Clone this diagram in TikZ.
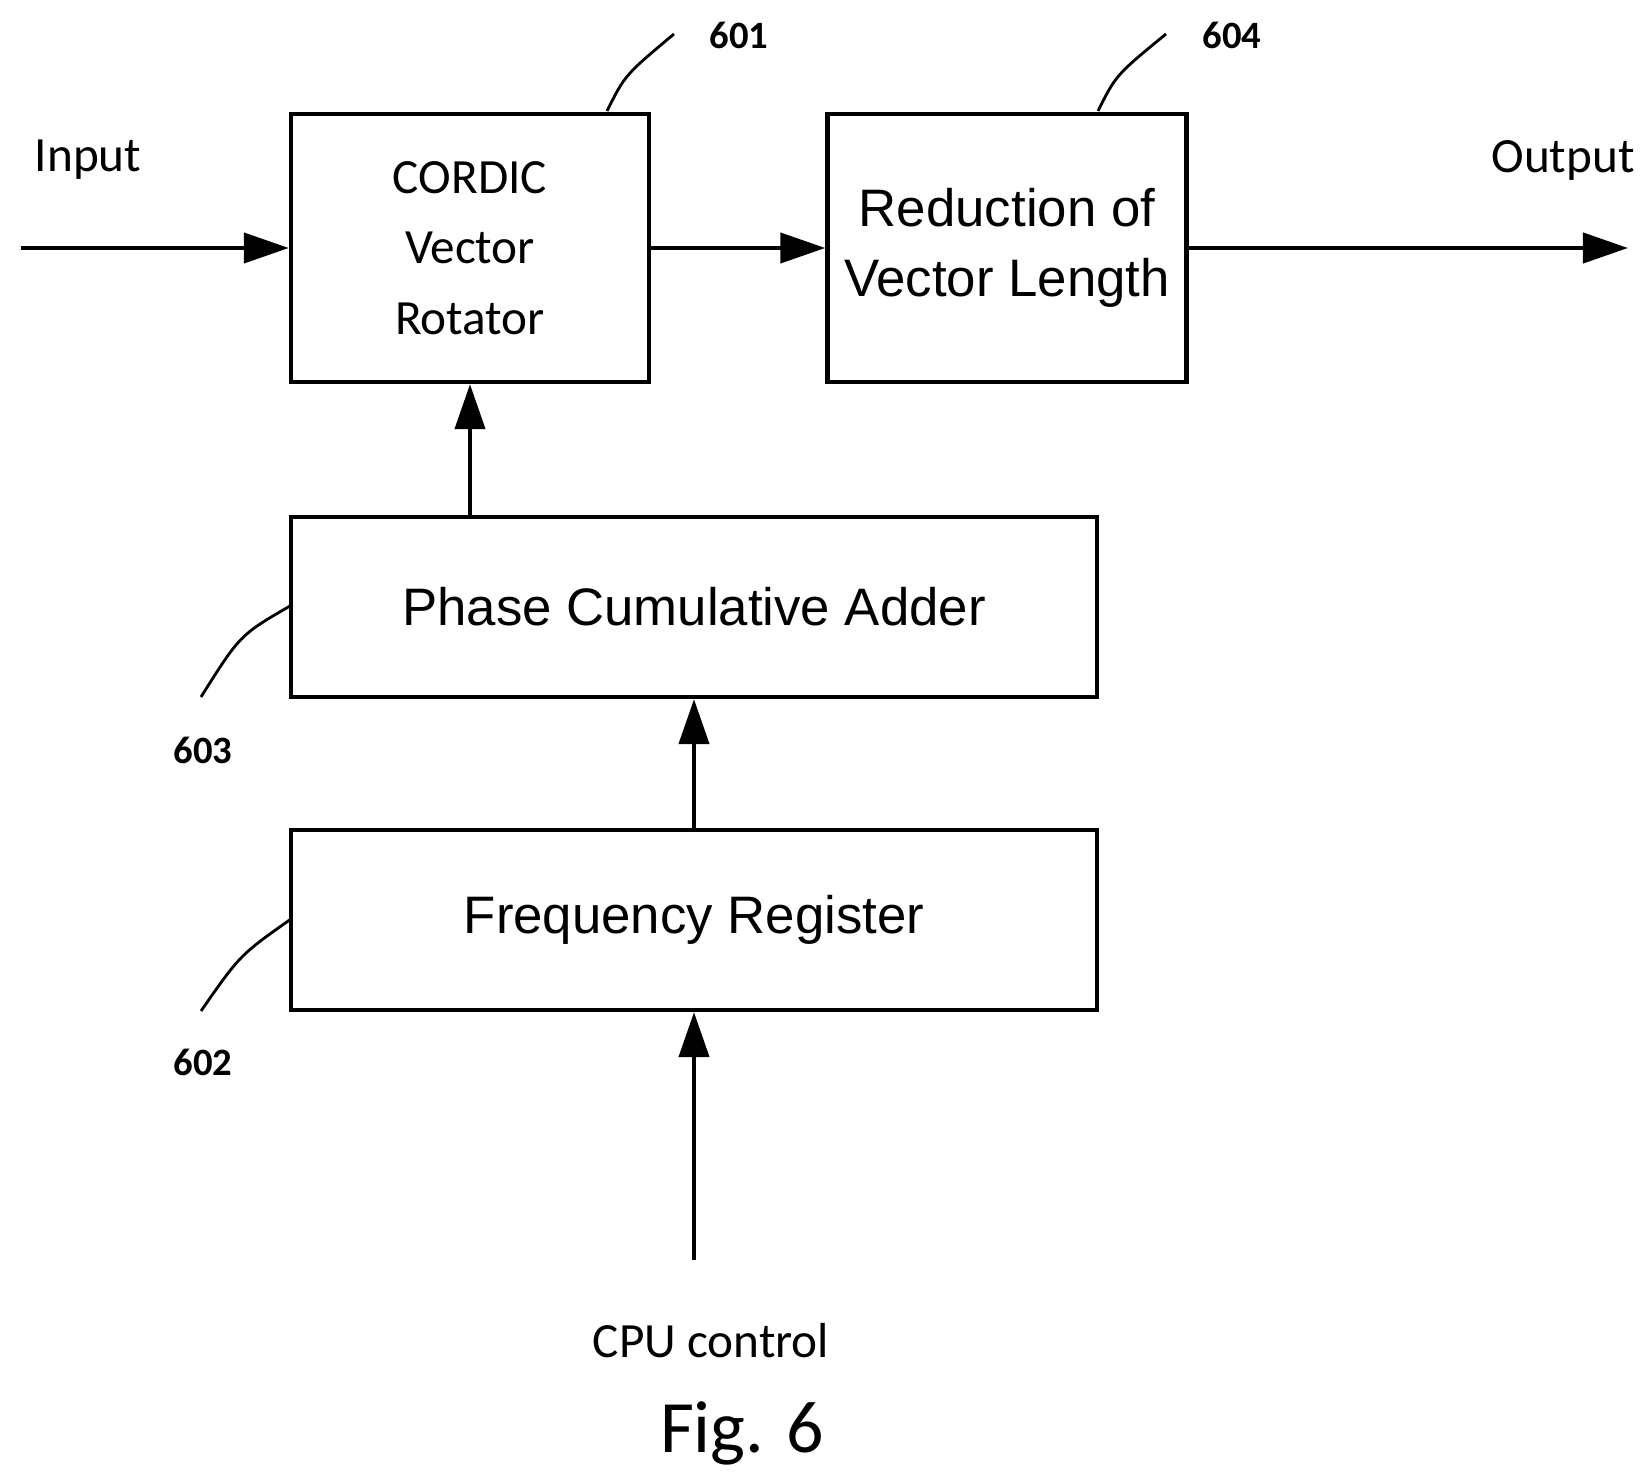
\documentclass[tikz,border=0pt]{standalone}
\usepackage{fontspec}
\setmainfont{Carlito}
\newfontfamily\arialfont{Liberation Sans}
\usetikzlibrary{arrows.meta}
\begin{document}
\begin{tikzpicture}[x=0.01cm,y=-0.01cm,line width=1.2pt,
  blk/.style={draw,inner sep=0pt},
  sig/.style={-{Triangle[length=0.45cm,width=0.3cm]}},
  ref/.style={font=\bfseries\fontsize{11}{13}\selectfont},
  lbl/.style={font=\fontsize{14}{17}\selectfont}]
\useasboundingbox (0,0) rectangle (1647,1482);
\node[blk,minimum width=358\pgflinewidth/1.2*0+3.58cm,minimum height=2.68cm,align=center,font=\fontsize{14}{20}\selectfont] (cordic) at (470,248) {CORDIC\\Vector\\Rotator};
\node[blk,minimum width=3.59cm,minimum height=2.68cm,align=center,font=\arialfont\fontsize{15}{20}\selectfont] (reduce) at (1007,248) {Reduction of\\Vector Length};
\node[blk,minimum width=8.06cm,minimum height=1.80cm,font=\arialfont\fontsize{15}{18}\selectfont] (phase) at (694,607) {Phase Cumulative Adder};
\node[blk,minimum width=8.05cm,minimum height=1.80cm,font=\arialfont\fontsize{15}{18}\selectfont] (freq) at (694,920) {Frequency Register};
\coordinate (in) at (21,248);
\coordinate (out) at (1628,248);
\coordinate (cpu) at (694,1260);
\node[lbl] (inlbl) at (88,160) {Input};
\node[lbl] (outlbl) at (1563,160) {Output};
\node[lbl] (cpulbl) at (711,1341) {CPU control};
\node[font=\fontsize{21}{25}\selectfont] (fig) at (742,1433) {Fig. 6};
\draw[sig] (in) -- (cordic.west);
\draw[sig] (cordic.east) -- (reduce.west);
\draw[sig] (reduce.east) -- (out);
\draw[sig] (phase.north -| cordic.south) -- (cordic.south);
\draw[sig] (freq.north) -- (phase.south);
\draw[sig] (cpu) -- (freq.south);
% reference numerals
\node[ref] (n601) at (739,35) {601};
\node[ref] (n604) at (1232,35) {604};
\node[ref] (n603) at (203,750) {603};
\node[ref] (n602) at (203,1062) {602};
\draw[line width=0.8pt] (607,111) .. controls (625,75) .. (674,34);
\draw[line width=0.8pt] (1098,111) .. controls (1116,75) .. (1166,34);
\draw[line width=0.8pt] (290,606) .. controls (240,635) .. (201,697);
\draw[line width=0.8pt] (291,919) .. controls (240,955) .. (201,1011);
\end{tikzpicture}
\end{document}
